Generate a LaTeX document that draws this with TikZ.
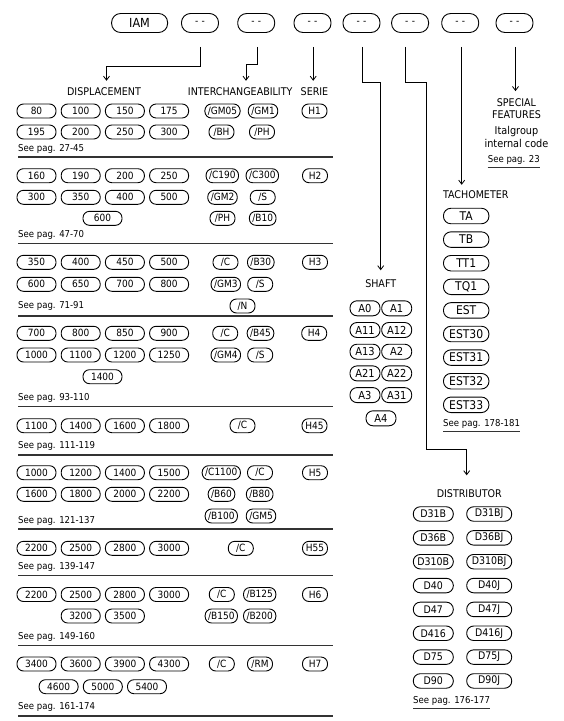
\documentclass[tikz,border=0pt]{standalone}
\usepackage{fontspec}
\setmainfont{DejaVu Sans Condensed}
\usepackage{tikz}
\usetikzlibrary{arrows.meta,positioning,calc}

\begin{document}
\begin{tikzpicture}[
    x=1pt, y=-1pt,
    font=\fontsize{10}{11}\selectfont,
    pill/.style={draw, rounded corners=6.5pt, line width=0.9pt, minimum height=14pt, inner xsep=3pt, inner ysep=0pt, font=\fontsize{10}{11}\selectfont},
    code/.style={pill, minimum width=37pt, minimum height=19pt, rounded corners=9pt},
    size/.style={pill, minimum width=39pt},
    chg/.style={pill, minimum width=25pt},
    shaftbox/.style={pill, minimum width=30pt, minimum height=15pt, rounded corners=7pt, font=\fontsize{11}{12}\selectfont},
    tachbox/.style={pill, minimum width=45.5pt, minimum height=15.5pt, rounded corners=7.5pt, font=\fontsize{12}{13}\selectfont},
    distbox/.style={pill, minimum height=14.5pt, rounded corners=7pt, font=\fontsize{10.5}{11}\selectfont},
    title/.style={inner sep=1pt, align=center, font=\fontsize{10.6}{12.7}\selectfont},
    seepag/.style={anchor=west, inner sep=0pt, font=\fontsize{9.5}{10}\selectfont},
    conn/.style={-{Straight Barb[length=4pt,width=6pt]}, line width=0.8pt},
    rule/.style={line width=1.3pt, draw=black!80}
]
\useasboundingbox (0,0) rectangle (563,721);

% code row
\node[code, minimum width=56pt, font=\fontsize{12.5}{13}\selectfont] (iam) at (139.6,23) {IAM};
\foreach \xx [count=\i] in {200,256.2,312.5,361.5,410.1,460.2,514.5}
  \node[code] (c\i) at (\xx,23) {-\,\,-};

% headings
\node[title] (dispt) at (104,92) {DISPLACEMENT};
\node[title] (chgt) at (240.2,92) {INTERCHANGEABILITY};
\node[title] (seriet) at (314.5,92) {SERIE};
\node[title] (spect) at (516.5,108.7) {SPECIAL\\FEATURES};
\node[title, font=\fontsize{10.8}{13.3}\selectfont] (italt) at (516.5,136.7) {Italgroup\\internal code};
\node[seepag] (specsee) at (487.7,160) {See pag. 23};
\node[title] (shaftt) at (380.7,284) {SHAFT};
\node[title] (tacht) at (475.8,195) {TACHOMETER};
\node[title] (distt) at (469.3,494) {DISTRIBUTOR};

% connectors
\draw[conn, shorten >=6pt] ([yshift=-14pt]c1.south) -- ++(0,19) -| ([xshift=2.5pt]dispt.north);
\draw[conn, shorten >=6pt] ([xshift=1.4pt, yshift=-14pt]c2.south) -- ++(0,17.5) -| ([xshift=5.8pt]chgt.north);
\draw[conn, shorten >=6pt] ([xshift=0.7pt, yshift=-14pt]c3.south) -- ([xshift=0.7pt]c3.south |- seriet.north);
\draw[conn, shorten >=8.5pt] ([xshift=0.5pt, yshift=-14pt]c4.south) -- ++(0,35) -| (shaftt.north);
\draw[conn, shorten >=13.5pt] ([xshift=-4.4pt, yshift=-14pt]c5.south) -- ++(0,35) -- ++(21,0) -- ++(0,367.3) -| ([xshift=-2.6pt]distt.north);
\draw[conn, shorten >=5pt] ([xshift=1.5pt, yshift=-14pt]c6.south) -- ([xshift=1.5pt]c6.south |- tacht.north);
\draw[conn, shorten >=6pt] ([xshift=1pt, yshift=-14pt]c7.south) -- ([xshift=1pt]c7.south |- spect.north);
\draw[line width=1.1pt, black!80] ([yshift=-3pt]specsee.south west) -- ([yshift=-3pt]specsee.south east);

% series H1
\foreach \v [count=\i] in {80,100,150,175}
  \node[size] (a\i) at ({36.5+44.2*(\i-1)},111) {\v};
\foreach \v [count=\i] in {195,200,250,300}
  \node[size] (b\i) at ({36.5+44.2*(\i-1)},132) {\v};
\node[chg] (gm05) at (222.5,111) {/GM05};
\node[chg] (gm1) at (263,111) {/GM1};
\node[chg] (bh) at (221.5,132) {/BH};
\node[chg] (ph1) at (262,132) {/PH};
\node[chg] (h1) at (314.5,111) {H1};
\node[seepag] (see1) at (18,148.5) {See pag. 27-45};
\draw[rule] (18,157) -- (333,157);

% series H2
\foreach \v [count=\i] in {160,190,200,250}
  \node[size] (a\i) at ({36.5+44.2*(\i-1)},175.7) {\v};
\foreach \v [count=\i] in {300,350,400,500}
  \node[size] (b\i) at ({36.5+44.2*(\i-1)},197.3) {\v};
\node[size] (s600a) at (102.5,218.3) {600};
\node[chg] (c190) at (222.3,175.7) {/C190};
\node[chg] (c300) at (262.3,175.7) {/C300};
\node[chg] (gm2) at (222.5,197.3) {/GM2};
\node[chg] (s2) at (262.7,197.3) {/S};
\node[chg] (ph2) at (222.5,218.3) {/PH};
\node[chg] (b10) at (262.7,218.3) {/B10};
\node[chg] (h2) at (315,175.7) {H2};
\node[seepag] (see2) at (18,235) {See pag. 47-70};
\draw[rule] (18,243.3) -- (333,243.3);

% series H3
\foreach \v [count=\i] in {350,400,450,500}
  \node[size] (a\i) at ({36.5+44.2*(\i-1)},262.3) {\v};
\foreach \v [count=\i] in {600,650,700,800}
  \node[size] (b\i) at ({36.5+44.2*(\i-1)},284.3) {\v};
\node[chg] (c3) at (225.5,262.3) {/C};
\node[chg] (b30) at (260.8,262.3) {/B30};
\node[chg] (gm3) at (225.8,284.3) {/GM3};
\node[chg] (s3) at (260.2,284.3) {/S};
\node[chg] (n3) at (242.5,306) {/N};
\node[chg] (h3) at (315,262.3) {H3};
\node[seepag] (see3) at (18,306) {See pag. 71-91};
\draw[rule] (18,316) -- (333,316);

% series H4
\foreach \v [count=\i] in {700,800,850,900}
  \node[size] (a\i) at ({36.5+44.2*(\i-1)},333.3) {\v};
\foreach \v [count=\i] in {1000,1100,1200,1250}
  \node[size] (b\i) at ({36.5+44.2*(\i-1)},355) {\v};
\node[size] (s1400a) at (102.5,376.7) {1400};
\node[chg] (c4) at (225.2,333.3) {/C};
\node[chg] (b45) at (260.5,333.3) {/B45};
\node[chg] (gm4) at (225.8,355) {/GM4};
\node[chg] (s4) at (260.2,355) {/S};
\node[chg] (h4) at (314.2,333.3) {H4};
\node[seepag] (see4) at (18,397.7) {See pag. 93-110};
\draw[rule] (18,406.7) -- (333,406.7);

% series H45
\foreach \v [count=\i] in {1100,1400,1600,1800}
  \node[size] (a\i) at ({36.5+44.2*(\i-1)},425.7) {\v};
\node[chg] (c45) at (242.5,425.7) {/C};
\node[chg] (h45) at (314.5,425.7) {H45};
\node[seepag] (see45) at (18,446) {See pag. 111-119};
\draw[rule] (18,455) -- (333,455);

% series H5
\foreach \v [count=\i] in {1000,1200,1400,1500}
  \node[size] (a\i) at ({36.5+44.2*(\i-1)},472.7) {\v};
\foreach \v [count=\i] in {1600,1800,2000,2200}
  \node[size] (b\i) at ({36.5+44.2*(\i-1)},494.3) {\v};
\node[chg] (c1100) at (221.3,472.7) {/C1100};
\node[chg] (c5) at (260,472.7) {/C};
\node[chg] (b60) at (221.5,494.3) {/B60};
\node[chg] (b80) at (259.7,494.3) {/B80};
\node[chg] (b100) at (221.3,516) {/B100};
\node[chg] (gm5) at (261,516) {/GM5};
\node[chg] (h5) at (315,472.7) {H5};
\node[seepag] (see5) at (18,520.7) {See pag. 121-137};
\draw[rule] (18,529) -- (333,529);

% series H55
\foreach \v [count=\i] in {2200,2500,2800,3000}
  \node[size] (a\i) at ({36.5+44.2*(\i-1)},548.3) {\v};
\node[chg] (c55) at (240.8,548.3) {/C};
\node[chg] (h55) at (315,548.3) {H55};
\node[seepag] (see55) at (18,566.7) {See pag. 139-147};
\draw[rule] (18,575.7) -- (333,575.7);

% series H6
\foreach \v [count=\i] in {2200,2500,2800,3000}
  \node[size] (a\i) at ({36.5+44.2*(\i-1)},594.5) {\v};
\node[size] (s3200) at (80.7,616) {3200};
\node[size] (s3500) at (124.9,616) {3500};
\node[chg] (c6) at (221.8,594.5) {/C};
\node[chg] (b125) at (259.7,594.5) {/B125};
\node[chg] (b150) at (221.3,616) {/B150};
\node[chg] (b200) at (259.7,616) {/B200};
\node[chg] (h6) at (315,594.5) {H6};
\node[seepag] (see6) at (18,636.7) {See pag. 149-160};
\draw[rule] (18,645.7) -- (333,645.7);

% series H7
\foreach \v [count=\i] in {3400,3600,3900,4300}
  \node[size] (a\i) at ({36.5+44.2*(\i-1)},664) {\v};
\foreach \v [count=\i] in {4600,5000,5400}
  \node[size] (b\i) at ({58.6+44.2*(\i-1)},686.7) {\v};
\node[chg] (c7) at (221.8,664) {/C};
\node[chg] (rm) at (260,664) {/RM};
\node[chg] (h7) at (315,664) {H7};
\node[seepag] (see7) at (18,706.7) {See pag. 161-174};
\draw[rule] (18,716) -- (333,716);

% shaft
\foreach \l/\r [count=\k] in {A0/A1,A11/A12,A13/A2,A21/A22,A3/A31} {
  \node[shaftbox] (shl\k) at (365,{308.3+21.7*(\k-1)}) {\l};
  \node[shaftbox] (shr\k) at (396.7,{308.3+21.7*(\k-1)}) {\r};
}
\node[shaftbox] (a4) at (381,418.3) {A4};

% tachometer
\foreach \t [count=\k] in {TA,TB,TT1,TQ1,EST,EST30,EST31,EST32,EST33}
  \node[tachbox] (tach\k) at (466.2,{216+23.6*(\k-1)}) {\t};
\node[seepag] (tachsee) at (443,424) {See pag. 178-181};
\draw[line width=1.1pt, black!80] ([yshift=-3pt]tachsee.south west) -- ([yshift=-3pt]tachsee.south east);

% distributor
\foreach \l/\r [count=\k] in {D31B/D31BJ,D36B/D36BJ,D310B/D310BJ,D40/D40J,D47/D47J,D416/D416J,D75/D75J,D90/D90J} {
  \node[distbox, minimum width=40pt] (dl\k) at (433.3,{514+23.85*(\k-1)}) {\l};
  \node[distbox, minimum width=45pt] (dr\k) at (489.2,{514+23.85*(\k-1)}) {\r};
}
\node[seepag] (distsee) at (413,701) {See pag. 176-177};
\draw[line width=1.1pt, black!80] ([yshift=-3pt]distsee.south west) -- ([yshift=-3pt]distsee.south east);
\end{tikzpicture}
\end{document}
